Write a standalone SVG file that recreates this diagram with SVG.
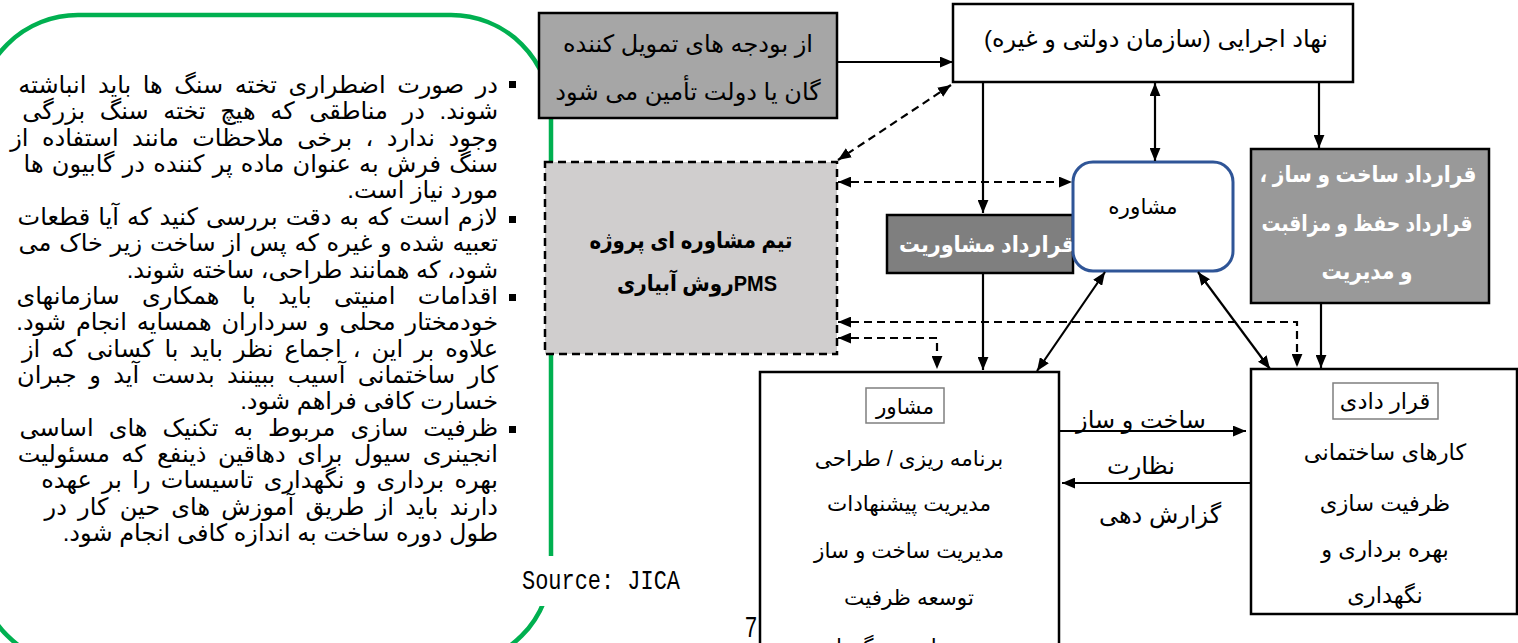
<svg xmlns="http://www.w3.org/2000/svg" width="1518" height="643" viewBox="0 0 1518 643">
<style>
.ar{font-family:"Liberation Sans","DejaVu Sans",sans-serif;font-size:24px;fill:#000;direction:rtl}
.c{text-anchor:middle}
.b{font-weight:bold;font-size:22.5px}
.w{fill:#fff}
.m{font-size:21.5px}
.k{font-size:22.5px}
.para{font-family:"Liberation Sans","DejaVu Sans",sans-serif;font-size:24px;fill:#000;direction:rtl;text-anchor:start}
.box{stroke:#000;stroke-width:2.5}
.ln{stroke:#000;stroke-width:2.2;fill:none}
.dash{stroke-dasharray:8 5}
</style>
<defs>
<marker id="ah" viewBox="0 0 12 10" refX="12" refY="5" markerWidth="13" markerHeight="11" markerUnits="userSpaceOnUse" orient="auto-start-reverse">
<path d="M0,0 L12,5 L0,10 z" fill="#000"/>
</marker>
</defs>

<g id="green-frame">
<rect x="-22" y="15" width="573" height="650" rx="100" ry="100" fill="#fff" stroke="#00b050" stroke-width="4.5"/>
</g>

<g id="bullets">
<rect x="509" y="81" width="7" height="7" fill="#000"/>
<rect x="509" y="216" width="7" height="7" fill="#000"/>
<rect x="509" y="294" width="7" height="7" fill="#000"/>
<rect x="509" y="426" width="7" height="7" fill="#000"/>
</g>

<g id="notes" class="para">
<text x="498" y="93" word-spacing="4.9">در صورت اضطراری تخته سنگ ها باید انباشته</text>
<text x="498" y="119" word-spacing="8">شوند. در مناطقی که هیچ تخته سنگ بزرگی</text>
<text x="498" y="146" word-spacing="6.8">وجود ندارد ، برخی ملاحظات مانند استفاده از</text>
<text x="498" y="172" word-spacing="1.6">سنگ فرش به عنوان ماده پر کننده در گابیون ها</text>
<text x="498" y="198">مورد نیاز است.</text>
<text x="498" y="225" word-spacing="1.4">لازم است که به دقت بررسی کنید که آیا قطعات</text>
<text x="498" y="251" word-spacing="1.1">تعبیه شده و غیره که پس از ساخت زیر خاک می</text>
<text x="498" y="278">شود، که همانند طراحی، ساخته شوند.</text>
<text x="498" y="304" word-spacing="15.8">اقدامات امنیتی باید با همکاری سازمانهای</text>
<text x="498" y="330" word-spacing="3.2">خودمختار محلی و سرداران همسایه انجام شود.</text>
<text x="498" y="357" word-spacing="4.4">علاوه بر این ، اجماع نظر باید با کسانی که از</text>
<text x="498" y="383" word-spacing="5.8">کار ساختمانی آسیب ببینند بدست آید و جبران</text>
<text x="498" y="409">خسارت کافی فراهم شود.</text>
<text x="498" y="436" word-spacing="8.4">ظرفیت سازی مربوط به تکنیک های اساسی</text>
<text x="498" y="462" word-spacing="4.8">انجینری سیول برای دهاقین ذینفع که مسئولیت</text>
<text x="498" y="488" word-spacing="3.6">بهره برداری و نگهداری تاسیسات را بر عهده</text>
<text x="498" y="515" word-spacing="4.6">دارند باید از طریق آموزش های حین کار در</text>
<text x="498" y="541">طول دوره ساخت به اندازه کافی انجام شود.</text>
</g>

<g id="source">
<rect x="512" y="556" width="185" height="50" fill="#fff"/>
<text x="522" y="589" font-family="Liberation Mono, monospace" font-size="27" textLength="158" lengthAdjust="spacingAndGlyphs">Source: JICA</text>
<text x="745" y="637" font-family="Liberation Sans, sans-serif" font-size="30" textLength="12" lengthAdjust="spacingAndGlyphs">7</text>
</g>

<g id="funding">
<rect class="box" x="539" y="13" width="298" height="105" fill="#a6a6a6"/>
<text class="ar c" x="688" y="52">از بودجه های تمویل کننده</text>
<text class="ar c" x="688" y="100">گان یا دولت تأمین می شود</text>
</g>

<g id="executing-agency">
<rect class="box" x="953" y="4" width="400" height="78" fill="#fff"/>
<text class="ar c" x="1156" y="47">نهاد اجرایی (سازمان دولتی و غیره)</text>
</g>

<g id="pms-team">
<rect x="545" y="162" width="292" height="192" fill="#d0cece" stroke="#000" stroke-width="2.5" stroke-dasharray="8 5"/>
<text class="ar c b" x="691" y="248" textLength="203" lengthAdjust="spacingAndGlyphs">تیم مشاوره ای پروژه</text>
<text class="ar c b" x="697" y="291" textLength="160" lengthAdjust="spacingAndGlyphs">PMSروش آبیاری</text>
</g>

<g id="consulting-contract">
<rect class="box" x="887" y="215" width="186" height="58" fill="#7f7f7f"/>
<text class="ar c b w" x="987" y="252" textLength="176" lengthAdjust="spacingAndGlyphs">قرارداد مشاوریت</text>
</g>

<g id="consultation">
<rect x="1073" y="162" width="160" height="109" rx="20" ry="20" fill="#fff" stroke="#2f5597" stroke-width="3"/>
<text class="ar c m" x="1143" y="214">مشاوره</text>
</g>

<g id="construction-contract">
<rect class="box" x="1251" y="149" width="238" height="154" fill="#999999"/>
<text class="ar c b w" x="1368" y="182" textLength="217" lengthAdjust="spacingAndGlyphs">قرارداد ساخت و ساز ،</text>
<text class="ar c b w" x="1367" y="231" textLength="211" lengthAdjust="spacingAndGlyphs">قرارداد حفظ و مزاقبت</text>
<text class="ar c b w" x="1367" y="279" textLength="91" lengthAdjust="spacingAndGlyphs">و مدیریت</text>
</g>

<g id="consultant">
<rect class="box" x="760" y="372" width="299" height="300" fill="#fff"/>
<rect x="866" y="388" width="78" height="35" fill="#fff" stroke="#7f7f7f" stroke-width="1.5"/>
<text class="ar c m" x="905" y="414">مشاور</text>
<text class="ar c m" x="909" y="466">برنامه ریزی / طراحی</text>
<text class="ar c m" x="909" y="511">مدیریت پیشنهادات</text>
<text class="ar c m" x="909" y="558">مدیریت ساخت و ساز</text>
<text class="ar c m" x="909" y="605">توسعه ظرفیت</text>
<text class="ar c m" x="909" y="654">بهره برداری و نگهداری</text>
</g>

<g id="contractor">
<rect class="box" x="1251" y="369" width="266" height="245" fill="#fff"/>
<rect x="1333" y="383" width="105" height="36" fill="#fff" stroke="#7f7f7f" stroke-width="1.5"/>
<text class="ar c k" x="1385" y="409">قرار دادی</text>
<text class="ar c k" x="1385" y="460">کارهای ساختمانی</text>
<text class="ar c k" x="1385" y="511">ظرفیت سازی</text>
<text class="ar c k" x="1385" y="557">بهره برداری و</text>
<text class="ar c k" x="1385" y="603">نگهداری</text>
</g>

<g id="connectors">
<path class="ln" d="M838,62 H953" marker-end="url(#ah)"/>
<path class="ln dash" d="M951,85 L838,160" marker-start="url(#ah)" marker-end="url(#ah)"/>
<path class="ln dash" d="M838,182 H1072" marker-start="url(#ah)" marker-end="url(#ah)"/>
<path class="ln" d="M983,83 V213" marker-end="url(#ah)"/>
<path class="ln" d="M1155,83 V161" marker-start="url(#ah)" marker-end="url(#ah)"/>
<path class="ln" d="M1319,83 V148" marker-end="url(#ah)"/>
<path class="ln" d="M983,274 V370" marker-end="url(#ah)"/>
<path class="ln" d="M1321,304 V368" marker-end="url(#ah)"/>
<path class="ln dash" d="M838,322 H1297 V367" marker-start="url(#ah)" marker-end="url(#ah)"/>
<path class="ln dash" d="M838,338 H937 V369" marker-start="url(#ah)" marker-end="url(#ah)"/>
<path class="ln" d="M1105,272 L1037,371" marker-start="url(#ah)" marker-end="url(#ah)"/>
<path class="ln" d="M1198,272 L1270,369" marker-start="url(#ah)" marker-end="url(#ah)"/>
<path class="ln" d="M1059,431 H1246" marker-end="url(#ah)"/>
<path class="ln" d="M1250,483 H1062" marker-end="url(#ah)"/>
</g>

<g id="labels">
<text class="ar c" x="1141" y="428">ساخت و ساز</text>
<text class="ar c" x="1141" y="474">نظارت</text>
<text class="ar c" x="1160" y="523">گزارش دهی</text>
</g>
</svg>
